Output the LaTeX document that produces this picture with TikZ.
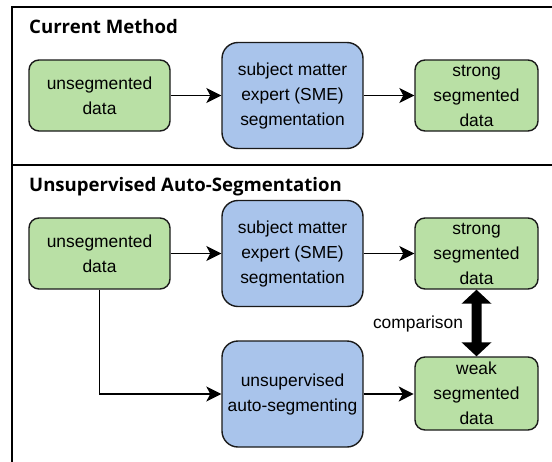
\documentclass[tikz,border=0pt]{standalone}
\usepackage{fontspec}
\setmainfont{Liberation Sans}
\newfontfamily\titlefont{Open Sans}
\usetikzlibrary{calc,arrows.meta}
\definecolor{gfill}{HTML}{B9E0A5}
\definecolor{bfill}{HTML}{A9C4EB}
\definecolor{edge}{HTML}{1A1A1A}
\begin{document}
\begin{tikzpicture}[x=1pt,y=-1pt,
  every node/.style={font=\fontsize{17.4}{25}\selectfont, align=center, inner sep=0pt},
  greenbox/.style={draw=edge, line width=1.4pt, fill=gfill, rounded corners=10pt},
  bluebox/.style={draw=edge, line width=1.4pt, fill=bfill, rounded corners=16pt, minimum width=141pt, minimum height=106pt},
  flow/.style={draw=black, line width=1.3pt, -{Stealth[length=15pt,width=15pt,inset=4pt]}},
  frame/.style={draw=black, line width=2pt},
  heading/.style={font=\titlefont\bfseries\fontsize{18.6}{22}\selectfont, anchor=base west}]
\clip (0,0) rectangle (552,461);
\fill[white] (0,0) rectangle (552,461);
% frame
\draw[frame] (560,7) -- (12,7) -- (12,470);
\draw[frame] (12,165) -- (560,165);
% headings
\node[heading] (h1) at (29,33.3) {Current Method};
\node[heading] (h2) at (29,191.7) {Unsupervised Auto-Segmentation};
% current method
\node[greenbox, minimum width=141pt, minimum height=71pt] (u1) at (99.5,95.5) {unsegmented\\data};
\node[bluebox] (s1) at (292.5,95.5) {subject matter\\expert (SME)\\segmentation};
\node[greenbox, minimum width=123pt, minimum height=71pt] (t1) at (476.5,95.5) {strong\\segmented\\data};
\draw[flow] (u1) -- (s1);
\draw[flow] (s1) -- (t1);
% unsupervised
\node[greenbox, minimum width=141pt, minimum height=71pt] (u2) at (99.5,253.5) {unsegmented\\data};
\node[bluebox] (s2) at (292.5,253.5) {subject matter\\expert (SME)\\segmentation};
\node[greenbox, minimum width=123pt, minimum height=71pt] (t2) at (476.5,253.5) {strong\\segmented\\data};
\node[bluebox] (a2) at (292.5,394) {unsupervised\\auto-segmenting};
\node[greenbox, minimum width=123pt, minimum height=73pt] (w2) at (476.5,393.5) {weak\\segmented\\data};
\draw[flow] (u2) -- (s2);
\draw[flow] (s2) -- (t2);
\draw[flow] (u2.south) |- (a2.west);
\draw[flow] (a2.east) -- ++(50,0);
\coordinate (wl) at (w2.west);
\fill[black] (t2.south) -- ++(15,14) -- ++(-10,0) -- ($(w2.north)+(5,-14)$) -- ++(10,0) -- (w2.north) -- ++(-15,-14) -- ++(10,0) -- ($(t2.south)+(-5,14)$) -- ++(-10,0) -- cycle;
\node (cmp) at (418,324) {comparison};
\end{tikzpicture}
\end{document}
